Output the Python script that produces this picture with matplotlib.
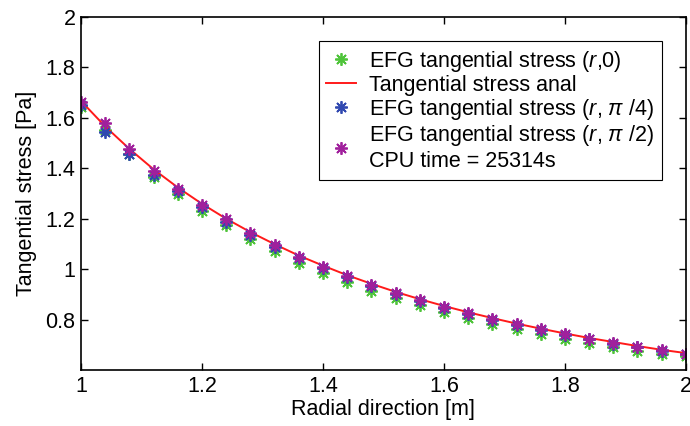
import matplotlib.pyplot as plt
import numpy as np

plt.rcParams['font.family'] = ['Liberation Sans', 'DejaVu Sans']
plt.rcParams['mathtext.fontset'] = 'custom'
plt.rcParams['mathtext.rm'] = 'Liberation Sans'
plt.rcParams['mathtext.it'] = 'Liberation Sans:italic'

# radial positions of the nodes [m]
r = [1.00, 1.04, 1.08, 1.12, 1.16, 1.20, 1.24, 1.28, 1.32, 1.36, 1.40, 1.44, 1.48,
     1.52, 1.56, 1.60, 1.64, 1.68, 1.72, 1.76, 1.80, 1.84, 1.88, 1.92, 1.96, 2.00]

# analytical tangential stress [Pa]
s_anal = [1.667, 1.566, 1.477, 1.396, 1.324, 1.259, 1.200, 1.147, 1.099, 1.054, 1.014,
          0.976, 0.942, 0.910, 0.881, 0.854, 0.829, 0.806, 0.784, 0.764, 0.745, 0.727,
          0.711, 0.695, 0.680, 0.667]

# EFG results along theta = 0, pi/4, pi/2
s_0 = [1.645, 1.550, 1.455, 1.365, 1.298, 1.232, 1.175, 1.118, 1.070, 1.025, 0.985,
       0.950, 0.915, 0.885, 0.858, 0.830, 0.805, 0.782, 0.762, 0.742, 0.724, 0.707,
       0.690, 0.675, 0.662, 0.655]
s_45 = [1.650, 1.545, 1.455, 1.375, 1.310, 1.245, 1.187, 1.135, 1.088, 1.045, 1.005,
        0.967, 0.933, 0.902, 0.873, 0.847, 0.822, 0.799, 0.778, 0.758, 0.739, 0.721,
        0.705, 0.690, 0.676, 0.663]
s_90 = [1.662, 1.580, 1.478, 1.390, 1.318, 1.255, 1.197, 1.143, 1.095, 1.050, 1.010,
        0.972, 0.938, 0.907, 0.878, 0.851, 0.826, 0.803, 0.781, 0.761, 0.742, 0.724,
        0.708, 0.692, 0.678, 0.665]

star = (8, 2, 0)  # asterisk marker
fs = 15.5
fig = plt.figure(figsize=(6.9, 4.26), dpi=100)
ax = fig.add_axes([0.1174, 0.1315, 0.8766, 0.8285])

ax.plot(r, s_0, ls='none', marker=star, ms=9, mew=1.3, color='#4fc43a',
        label=r'EFG tangential stress ($r$,0)')
ax.plot(r, s_anal, '-', color='#ff1a1a', lw=1.4, label='Tangential stress anal')
ax.plot(r, s_45, ls='none', marker=star, ms=9, mew=1.3, color='#3048b0',
        label=r'EFG tangential stress ($r$, $\pi$ /4)')
ax.plot(r, s_90, ls='none', marker=star, ms=9, mew=1.3, color='#a0209c',
        label='EFG tangential stress ($r$, $\\pi$ /2)\nCPU time = 25314s')

ax.set_xlim(1, 2)
ax.set_ylim(0.6, 2)
ax.set_xticks([1, 1.2, 1.4, 1.6, 1.8, 2])
ax.set_xticklabels(['1', '1.2', '1.4', '1.6', '1.8', '2'])
ax.set_yticks([0.8, 1, 1.2, 1.4, 1.6, 1.8, 2])
ax.set_yticklabels(['0.8', '1', '1.2', '1.4', '1.6', '1.8', '2'])
ax.tick_params(direction='in', top=True, right=True, length=5, width=1,
               labelsize=fs, pad=4)
for s in ax.spines.values():
    s.set_linewidth(1.2)

ax.set_xlabel('Radial direction [m]', fontsize=fs, labelpad=2)
ax.set_ylabel('Tangential stress [Pa]', fontsize=fs, labelpad=6)

leg = ax.legend(loc='upper right', bbox_to_anchor=(0.96, 0.932), borderaxespad=0,
                fontsize=fs, frameon=True, fancybox=False, edgecolor='black',
                framealpha=1, handlelength=1.4, handletextpad=0.6, borderpad=0.35,
                labelspacing=0.05)
leg.get_frame().set_linewidth(0.8)

fig.savefig('out.png', dpi=100)
